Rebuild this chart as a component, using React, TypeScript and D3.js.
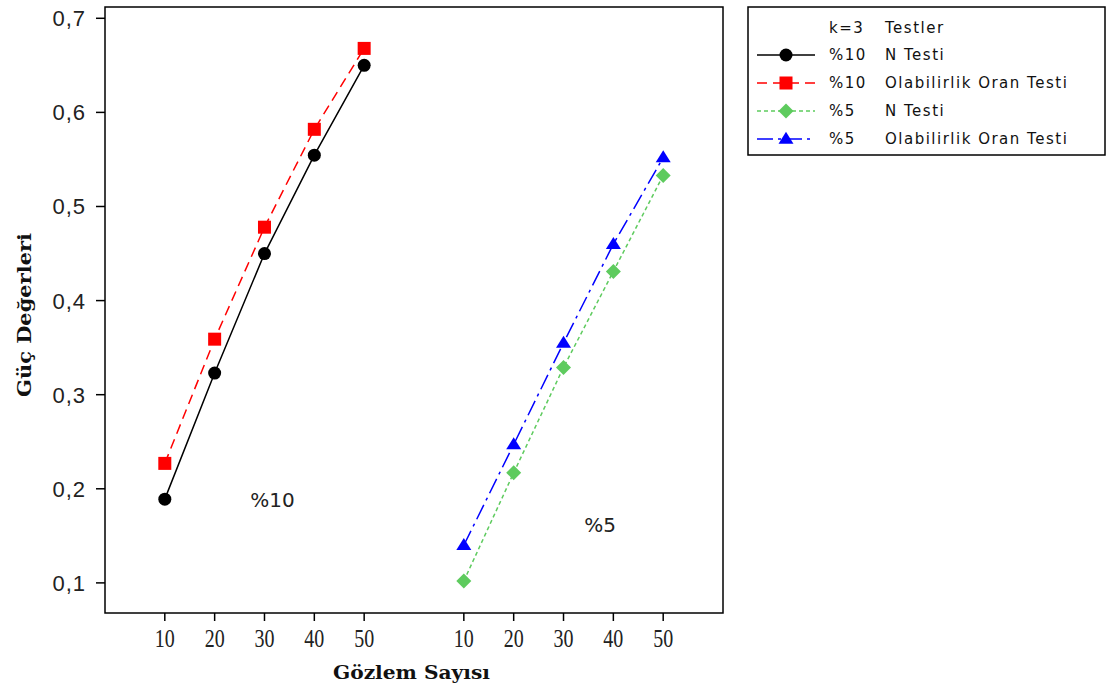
import React from "react";
import * as d3 from "d3";

const sampleSizes = [10, 20, 30, 40, 50];
const yTicks = [0.1, 0.2, 0.3, 0.4, 0.5, 0.6, 0.7];
const n10 = [0.189, 0.323, 0.450, 0.5545, 0.650];
const olr10 = [0.227, 0.359, 0.478, 0.582, 0.668];
const n5 = [0.102, 0.217, 0.329, 0.431, 0.533];
const olr5 = [0.140, 0.247, 0.355, 0.460, 0.552];
const groupLabels = ["%10", "%5"];
const legendHeader = ["k=3", "Testler"];

type Series = {
  level: string;
  name: string;
  group: number;
  values: number[];
  color: string;
  dash: string;
  marker: "circle" | "square" | "diamond" | "triangle";
};

const series: Series[] = [
  { level: "%10", name: "N Testi", group: 0, values: n10, color: "#000000", dash: "none", marker: "circle" },
  { level: "%10", name: "Olabilirlik Oran Testi", group: 0, values: olr10, color: "#ff0000", dash: "10 6", marker: "square" },
  { level: "%5", name: "N Testi", group: 1, values: n5, color: "#5ecb5e", dash: "4 3", marker: "diamond" },
  { level: "%5", name: "Olabilirlik Oran Testi", group: 1, values: olr5, color: "#0000ff", dash: "16 5 3 5", marker: "triangle" },
];

const W = 1112;
const H = 692;
const plot = { left: 105, right: 723, top: 7, bottom: 613 };

const x = d3.scaleLinear().domain([-0.2, 12.2]).range([plot.left, plot.right]);
const y = d3.scaleLinear().domain([0.068, 0.712]).range([plot.bottom, plot.top]);

const pos = (group: number, i: number) => group * 6 + i + 1;

function Marker({ type, cx, cy, color }: { type: Series["marker"]; cx: number; cy: number; color: string }) {
  if (type === "circle") return <circle cx={cx} cy={cy} r={6.5} fill={color} />;
  if (type === "square") return <rect x={cx - 6.5} y={cy - 6.5} width={13} height={13} fill={color} />;
  if (type === "diamond") {
    const r = 7.5;
    return <path d={`M${cx},${cy - r}L${cx + r},${cy}L${cx},${cy + r}L${cx - r},${cy}Z`} fill={color} />;
  }
  const h = 12, w = 15;
  return <path d={`M${cx},${cy - h * 0.6}L${cx + w / 2},${cy + h * 0.4}L${cx - w / 2},${cy + h * 0.4}Z`} fill={color} />;
}

export default function App() {
  const legend = { left: 748, top: 7, right: 1105, bottom: 155 };
  const rowY = [28, 55, 83, 111, 139];
  const sans = "'DejaVu Sans', Verdana, sans-serif";
  const lsans = "'Liberation Sans', Arial, sans-serif";
  const serif = "'Liberation Serif', 'Times New Roman', serif";
  const bserif = "'DejaVu Serif', 'Liberation Serif', serif";

  return (
    <svg width={W} height={H} style={{ position: "absolute", left: 0, top: 0, background: "#fff" }}>
      <rect x={0} y={0} width={W} height={H} fill="#fff" />
      {/* plot frame */}
      <rect x={plot.left} y={plot.top} width={plot.right - plot.left} height={plot.bottom - plot.top} fill="none" stroke="#000" strokeWidth={1.5} />
      {/* y ticks */}
      {yTicks.map((t) => (
        <g key={t}>
          <line x1={plot.left - 9} x2={plot.left} y1={y(t)} y2={y(t)} stroke="#000" strokeWidth={1.5} />
          <text x={86} y={y(t)} dy="0.36em" textAnchor="end" fontFamily={lsans} fontSize={22} letterSpacing={1} fill="#222">
            {d3.format(".1f")(t).replace(".", ",")}
          </text>
        </g>
      ))}
      {/* x ticks */}
      {[0, 1].map((g) =>
        sampleSizes.map((s, i) => (
          <g key={`${g}-${s}`}>
            <line x1={x(pos(g, i))} x2={x(pos(g, i))} y1={plot.bottom} y2={plot.bottom + 8} stroke="#000" strokeWidth={1.5} />
            <text x={x(pos(g, i)) - 10} y={647} fontFamily={serif} fontSize={25} textLength={20} lengthAdjust="spacingAndGlyphs" fill="#222">
              {s}
            </text>
          </g>
        ))
      )}
      {/* axis titles */}
      <text x={333} y={679} fontFamily={bserif} fontWeight="bold" fontSize={19} textLength={157} lengthAdjust="spacingAndGlyphs" fill="#111">
        Gözlem Sayısı
      </text>
      <text transform={`translate(31,${397}) rotate(-90)`} fontFamily={bserif} fontWeight="bold" fontSize={19} textLength={164} lengthAdjust="spacingAndGlyphs" fill="#111">
        Güç Değerleri
      </text>
      {/* series */}
      {series.map((s, k) => {
        const l = d3
          .line<number>()
          .x((_, i) => x(pos(s.group, i)))
          .y((v) => y(v));
        return (
          <g key={k}>
            <path d={l(s.values) || ""} fill="none" stroke={s.color} strokeWidth={1.5} strokeDasharray={s.dash} />
            {s.values.map((v, i) => (
              <Marker key={i} type={s.marker} cx={x(pos(s.group, i))} cy={y(v)} color={s.color} />
            ))}
          </g>
        );
      })}
      {/* group annotations */}
      <text x={272.5} y={500} dy="0.36em" textAnchor="middle" fontFamily={sans} fontSize={20} fill="#222">
        {groupLabels[0]}
      </text>
      <text x={600} y={525} dy="0.36em" textAnchor="middle" fontFamily={sans} fontSize={20} fill="#222">
        {groupLabels[1]}
      </text>
      {/* legend */}
      <rect x={legend.left} y={legend.top} width={legend.right - legend.left} height={legend.bottom - legend.top} fill="#fff" stroke="#000" strokeWidth={1.5} />
      <text x={829} y={rowY[0]} dy="0.36em" fontFamily={sans} fontSize={15} letterSpacing={1.5} fill="#111">
        {legendHeader[0]}
      </text>
      <text x={885} y={rowY[0]} dy="0.36em" fontFamily={sans} fontSize={15} letterSpacing={1.5} fill="#111">
        {legendHeader[1]}
      </text>
      {series.map((s, k) => (
        <g key={k}>
          <line x1={757} x2={815} y1={rowY[k + 1]} y2={rowY[k + 1]} stroke={s.color} strokeWidth={1.5} strokeDasharray={s.dash} />
          <Marker type={s.marker} cx={786} cy={rowY[k + 1]} color={s.color} />
          <text x={829} y={rowY[k + 1]} dy="0.36em" fontFamily={sans} fontSize={15} letterSpacing={1.5} fill="#111">
            {s.level}
          </text>
          <text x={885} y={rowY[k + 1]} dy="0.36em" fontFamily={sans} fontSize={15} letterSpacing={1.5} fill="#111">
            {s.name}
          </text>
        </g>
      ))}
    </svg>
  );
}
